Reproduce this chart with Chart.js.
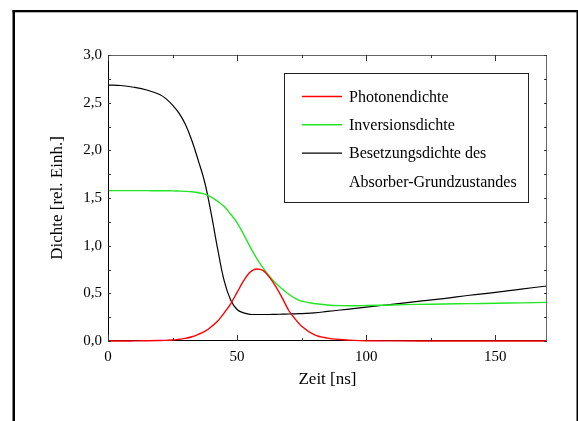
<!DOCTYPE html>
<html>
<head>
<meta charset="utf-8">
<script src="https://cdn.jsdelivr.net/npm/chart.js@4"></script>
<style>
  html, body { margin: 0; padding: 0; background: #fff; }
  canvas { display: block; }
</style>
</head>
<body>
<canvas id="dichteChart" width="578" height="421"></canvas>
<script>
// Zeit in ns
const zeit = [0, 5, 10, 15, 20, 22.5, 25, 27.5, 30, 32.5, 35, 37.5, 40, 42.5, 45, 47.5, 50, 52.5, 55, 57.5, 60, 62.5, 65, 67.5, 70, 72.5, 75, 80, 85, 90, 95, 100, 110, 120, 130, 140, 150, 160, 170];

const photonendichte = [0, 0, 0.001, 0.002, 0.005, 0.007, 0.01, 0.018, 0.028, 0.045, 0.07, 0.1, 0.15, 0.21, 0.295, 0.39, 0.51, 0.63, 0.72, 0.755, 0.74, 0.67, 0.57, 0.45, 0.32, 0.23, 0.155, 0.065, 0.03, 0.015, 0.007, 0.003, 0.001, 0, 0, 0, 0, 0, 0];

const inversionsdichte = [1.577, 1.577, 1.577, 1.577, 1.576, 1.576, 1.575, 1.573, 1.57, 1.565, 1.555, 1.54, 1.51, 1.465, 1.41, 1.33, 1.24, 1.12, 0.99, 0.87, 0.77, 0.68, 0.605, 0.545, 0.49, 0.448, 0.418, 0.393, 0.378, 0.371, 0.37, 0.372, 0.378, 0.384, 0.388, 0.392, 0.396, 0.4, 0.405];

const besetzungsdichte = [2.685, 2.68, 2.662, 2.633, 2.585, 2.54, 2.475, 2.39, 2.27, 2.1, 1.89, 1.66, 1.33, 0.96, 0.63, 0.43, 0.33, 0.295, 0.28, 0.278, 0.278, 0.278, 0.28, 0.281, 0.283, 0.285, 0.288, 0.295, 0.31, 0.325, 0.34, 0.355, 0.385, 0.415, 0.445, 0.48, 0.51, 0.545, 0.577];

const xTicks = [0, 50, 100, 150];
const schrift = '"Liberation Serif", "Times New Roman", serif';

function punkte(werte) {
  return zeit.map((t, i) => ({ x: t, y: werte[i] }));
}

// Rahmen, Achsen mit Innenticks und Legende
const rahmenPlugin = {
  id: "rahmen",
  beforeDraw(chart) {
    const ctx = chart.ctx;
    ctx.save();
    ctx.fillStyle = "#fff";
    ctx.fillRect(0, 0, chart.width, chart.height);
    ctx.fillStyle = "#000";
    ctx.fillRect(12.5, 10, 2.5, 411);
    ctx.fillRect(12.5, 10, 566, 2.3);
    ctx.fillRect(576.5, 10, 2, 411);
    ctx.restore();
  },
  afterDatasetsDraw(chart) {
    const ctx = chart.ctx;
    const a = chart.chartArea;
    const xs = chart.scales.x;
    const ys = chart.scales.y;
    ctx.save();
    ctx.lineWidth = 1;
    // oben / rechts grau
    ctx.strokeStyle = "#666";
    ctx.beginPath();
    ctx.moveTo(a.left, a.top + 0.5);
    ctx.lineTo(a.right, a.top + 0.5);
    ctx.moveTo(a.right - 0.5, a.top);
    ctx.lineTo(a.right - 0.5, a.bottom);
    ctx.stroke();
    // links schwarz
    ctx.strokeStyle = "#000";
    ctx.beginPath();
    ctx.moveTo(a.left + 0.5, a.top);
    ctx.lineTo(a.left + 0.5, a.bottom);
    ctx.stroke();

    ctx.strokeStyle = "#333";
    ctx.beginPath();
    for (let t = 0; t <= 170; t += 25) {
      const px = Math.round(xs.getPixelForValue(t)) + 0.5;
      const len = t % 50 === 0 ? 6 : 3;
      ctx.moveTo(px, a.bottom);
      ctx.lineTo(px, a.bottom - len);
      ctx.moveTo(px, a.top);
      ctx.lineTo(px, a.top + len);
    }
    for (let v = 0; v <= 3; v += 0.25) {
      const py = Math.round(ys.getPixelForValue(v)) + 0.5;
      const len = 3;
      ctx.moveTo(a.left, py);
      ctx.lineTo(a.left + len, py);
      ctx.moveTo(a.right, py);
      ctx.lineTo(a.right - len, py);
    }
    ctx.stroke();

    // Legende
    const bx = 284.5, by = 73.5, bw = 244, bh = 129;
    ctx.fillStyle = "#fff";
    ctx.fillRect(bx, by, bw, bh);
    ctx.strokeStyle = "#222";
    ctx.strokeRect(bx, by, bw, bh);
    ctx.font = "16px " + schrift;
    ctx.textBaseline = "middle";
    ctx.textAlign = "left";
    let zeile = 96.5;
    chart.data.datasets.forEach((ds) => {
      ctx.strokeStyle = ds.borderColor;
      ctx.lineWidth = ds.borderWidth;
      ctx.beginPath();
      ctx.moveTo(302, zeile);
      ctx.lineTo(342, zeile);
      ctx.stroke();
      ctx.fillStyle = "#000";
      const zeilen = Array.isArray(ds.label) ? ds.label : [ds.label];
      zeilen.forEach((txt) => {
        ctx.fillText(txt, 349, zeile + 1);
        zeile += 28.3;
      });
    });
    ctx.restore();
  }
};

const ctx = document.getElementById("dichteChart").getContext("2d");
const dichteChart = new Chart(ctx, {
  type: "line",
  data: {
    datasets: [
      {
        label: "Photonendichte",
        data: punkte(photonendichte),
        borderColor: "#ff0000",
        borderWidth: 1.4,
        cubicInterpolationMode: "monotone",
      },
      {
        label: "Inversionsdichte",
        data: punkte(inversionsdichte),
        borderColor: "#22e622",
        borderWidth: 1.4,
        tension: 0.4,
      },
      {
        label: ["Besetzungsdichte des", "Absorber-Grundzustandes"],
        data: punkte(besetzungsdichte),
        borderColor: "#000000",
        borderWidth: 1.2,
        tension: 0.4,
      },
    ],
  },
  options: {
    responsive: false,
    devicePixelRatio: 1,
    animation: false,
    layout: { padding: { top: 55, right: 31, bottom: 31, left: 47 } },
    elements: {
      point: { radius: 0 },
      line: { fill: false },
    },
    datasets: { line: { clip: 3 } },
    plugins: {
      legend: { display: false },
      tooltip: { enabled: false },
    },
    scales: {
      x: {
        type: "linear",
        min: 0,
        max: 170,
        afterFit(scale) { scale.height = 49; },
        afterBuildTicks(scale) { scale.ticks = xTicks.map((v) => ({ value: v })); },
        grid: { display: false, drawTicks: false },
        border: { display: false },
        ticks: {
          color: "#000",
          padding: 7,
          maxRotation: 0,
          font: { family: schrift, size: 15 },
        },
        title: {
          display: true,
          text: "Zeit [ns]",
          color: "#000",
          padding: 0,
          font: { family: schrift, size: 17 },
        },
      },
      y: {
        min: 0,
        max: 3,
        afterFit(scale) { scale.width = 61; },
        grid: { display: false, drawTicks: false },
        border: { display: false },
        ticks: {
          stepSize: 0.5,
          color: "#000",
          padding: 6,
          font: { family: schrift, size: 15 },
          callback: (v) => v.toFixed(1).replace(".", ","),
        },
        title: {
          display: true,
          text: "Dichte [rel. Einh.]",
          color: "#000",
          padding: 0,
          font: { family: schrift, size: 17 },
        },
      },
    },
  },
  plugins: [
    {
      id: "grundlinie",
      beforeDatasetsDraw(chart) {
        const c = chart.ctx, a = chart.chartArea;
        c.save();
        c.strokeStyle = "#000";
        c.lineWidth = 1;
        c.beginPath();
        c.moveTo(a.left, a.bottom - 0.5);
        c.lineTo(a.right, a.bottom - 0.5);
        c.stroke();
        c.restore();
      },
    },
    rahmenPlugin,
  ],
});
</script>
</body>
</html>
